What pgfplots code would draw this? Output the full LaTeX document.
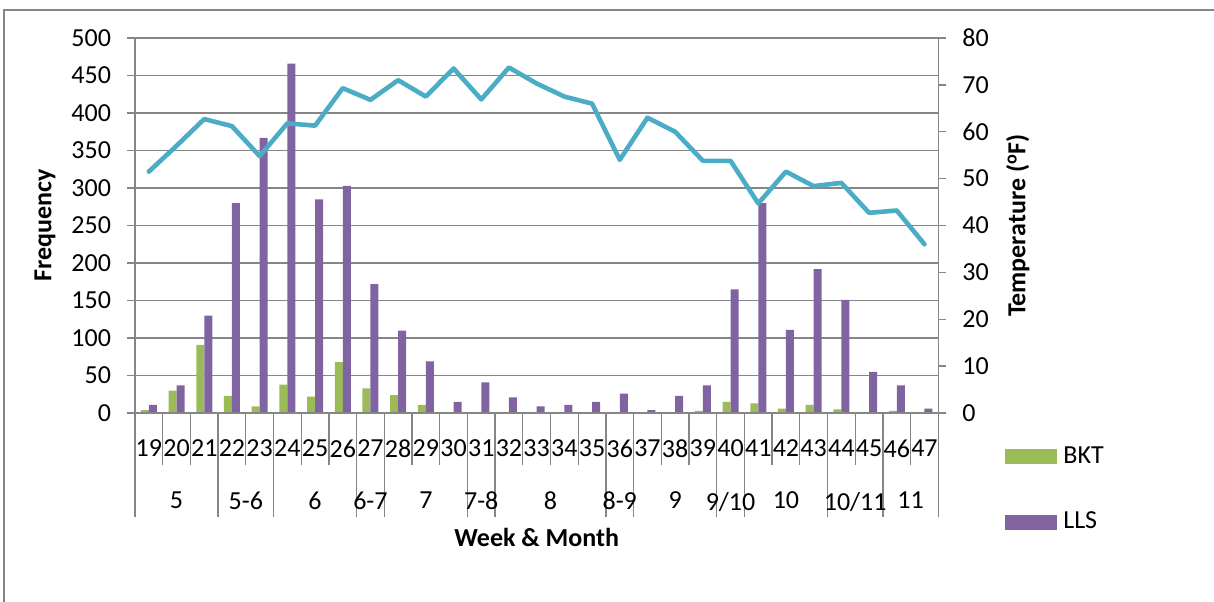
\documentclass[border=0pt]{standalone}
\usepackage{fontspec}
\setmainfont{Carlito}
\usepackage{pgfplots}
\pgfplotsset{compat=1.18}
\definecolor{bkt}{HTML}{9BBB59}
\definecolor{lls}{HTML}{8064A2}
\definecolor{temp}{HTML}{4BACC6}
\definecolor{gridc}{HTML}{868686}

% 1px of the reference = 0.5pt
\pgfplotsset{
  base/.style={
    at={(67.5pt,94pt)}, anchor=south west,
    width=401.65pt, height=187.5pt, scale only axis,
    xmin=18.5, xmax=47.5,
    axis line style={gridc, line width=0.65pt, -},
    tick style={gridc, line width=0.65pt},
    tick align=outside,
    /pgf/number format/assume math mode=true,
    tick label style={font=\fontsize{13}{15}\selectfont},
    label style={font=\fontsize{13}{15}\selectfont\bfseries},
  },
  boxlegend/.style={legend image code/.code={\fill[##1] (0pt,-4pt) rectangle (26pt,3.5pt);}},
}

\begin{document}
\begin{tikzpicture}[font=\fontsize{13}{15}\selectfont]
\useasboundingbox (0,0) rectangle (607pt,300.5pt);
\draw[gridc, line width=0.7pt] (2pt,-20pt) rectangle (640pt,295.5pt);

% bars, left axis
\begin{axis}[base,
    ymin=0, ymax=500, ytick={0,50,...,500},
    major tick length=4pt,
    axis y line*=left, axis x line*=bottom,
    xtick=\empty,
    yticklabel style={xshift=-4.5pt},
    ymajorgrids, grid style={gridc, line width=0.65pt},
    ybar=0pt, bar width=4pt,
    ylabel={Frequency},
    ylabel style={at={(axis description cs:-0.112,0.5)}, anchor=center},
    legend style={draw=none, fill=none, at={(1.083,-0.088)}, anchor=north west,
      inner sep=0pt, row sep=23pt, column sep=3pt,
      nodes={inner sep=0pt}, font=\fontsize{13}{15}\selectfont},
    legend cell align=left,
]
\addplot[fill=bkt, draw=none, boxlegend] coordinates {
  (19,4) (20,30) (21,91) (22,23) (23,9) (24,38) (25,22) (26,68) (27,33) (28,24)
  (29,11) (30,0) (31,0) (32,0) (33,0) (34,0) (35,0) (36,0) (37,0) (38,0)
  (39,3) (40,15) (41,13) (42,6) (43,11) (44,5) (45,0) (46,3) (47,1)};
\addplot[fill=lls, draw=none, boxlegend] coordinates {
  (19,11) (20,37) (21,130) (22,280) (23,367) (24,466) (25,285) (26,303) (27,172) (28,110)
  (29,69) (30,15) (31,41) (32,21) (33,9) (34,11) (35,15) (36,26) (37,4) (38,23)
  (39,37) (40,165) (41,280) (42,111) (43,192) (44,151) (45,55) (46,37) (47,6)};
\legend{BKT,LLS}
\end{axis}

% temperature, right axis
\begin{axis}[base,
    ymin=0, ymax=80, ytick={0,10,...,80},
    major tick length=4pt,
    axis y line*=right, axis x line=none,
    yticklabel style={xshift=4.5pt},
    ylabel={Temperature (\textsuperscript{o}F)},
    ylabel style={at={(axis description cs:1.099,0.5)}, anchor=center, rotate=0},
]
\addplot[temp, line width=2.3pt, line join=round, line cap=round, mark=none] coordinates {
  (19,51.5) (20,57) (21,62.7) (22,61.2) (23,54.8) (24,61.8) (25,61.3) (26,69.3)
  (27,66.8) (28,71) (29,67.5) (30,73.5) (31,66.9) (32,73.7) (33,70.3) (34,67.5)
  (35,66) (36,54) (37,63) (38,60) (39,53.8) (40,53.8) (41,44.7) (42,51.5)
  (43,48.4) (44,49.1) (45,42.7) (46,43.2) (47,36)};
\end{axis}

% week row
\begin{axis}[base,
    ymin=0, ymax=1, axis y line=none, axis x line*=bottom,
    xtick={19,...,47}, major tick length=0pt,
    minor xtick={18.5,19.5,...,47.5}, minor tick length=26pt,
    xticklabel style={yshift=-10pt},
]
\end{axis}

% month row
\begin{axis}[base,
    ymin=0, ymax=1, axis y line=none, axis x line*=bottom,
    xtick={20,22.5,25,27,29,31,33.5,36,38,40,42,44.5,46.5},
    xticklabels={5,5-6,6,6-7,7,7-8,8,8-9,9,9/10,10,10/11,11},
    major tick length=0pt,
    minor xtick={18.5,21.5,23.5,26.5,27.5,30.5,31.5,35.5,36.5,39.5,40.5,43.5,45.5,47.5},
    minor tick length=52pt,
    xticklabel style={yshift=-36pt},
    xlabel={Week \& Month},
    xlabel style={at={(axis description cs:0.5,-0.333)}, anchor=center},
]
\end{axis}
\end{tikzpicture}
\end{document}
